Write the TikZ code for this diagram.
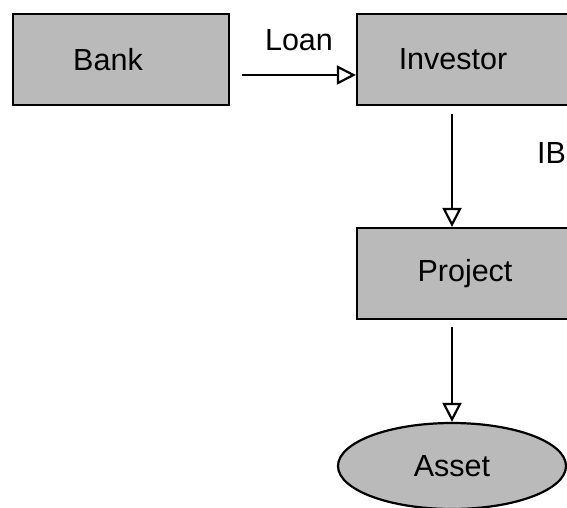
\documentclass[tikz,border=0pt]{standalone}
\usepackage{fontspec}
\setmainfont{Liberation Sans}
\usetikzlibrary{arrows.meta, shapes.geometric}

\tikzset{
  blockbox/.style={draw, line width=2.2pt, fill=black!27, minimum width=216pt, minimum height=91pt, inner sep=0pt},
  assetshape/.style={ellipse, draw, line width=2.2pt, fill=black!27, minimum width=228pt, minimum height=86pt, inner sep=0pt},
  flow/.style={line width=2.2pt, -{Triangle[open, length=19pt, width=19pt]}},
  tag/.style={inner sep=0pt}
}

\begin{document}
\begin{tikzpicture}[x=1pt, y=-1pt, font=\fontsize{30.5}{36}\selectfont]
    \useasboundingbox (0,0) rectangle (567,507);
    \node[blockbox] (bank) at (121,59.5) {Bank\hspace*{26pt}};
    \node[blockbox] (investor) at (465,59.5) {Investor\hspace*{24pt}};
    \node[blockbox] (project) at (465,273.5) {Project};
    \node[assetshape] (asset) at (452,466) {Asset};
    \coordinate (loanstart) at (242,75);
    \draw[flow] (loanstart) -- (loanstart -| investor.west);
    \node[tag] (loan) at (299,40) {Loan};
    \draw[flow] ([xshift=-13pt, yshift=-8pt]investor.south) -- ([xshift=-13pt]project.north);
    \node[tag, anchor=west] (ib) at (537,153.5) {IB};
    \draw[flow] ([xshift=-13pt, yshift=-7pt]project.south) -- (asset.north);
\end{tikzpicture}
\end{document}
